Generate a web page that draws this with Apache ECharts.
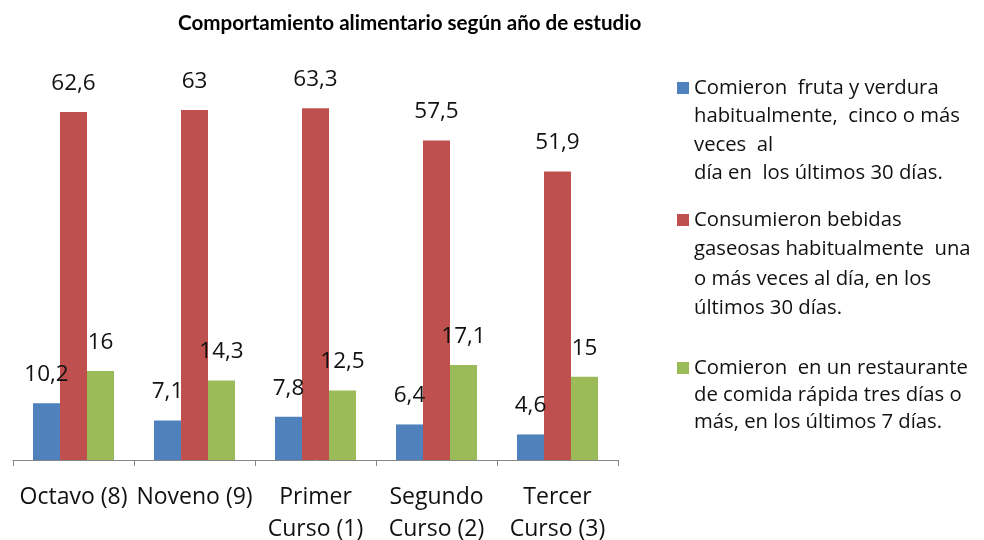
<!DOCTYPE html>
<html><head><meta charset="utf-8">
<script src="https://cdn.jsdelivr.net/npm/echarts@6/dist/echarts.min.js"></script>
<style>html,body{margin:0;padding:0;background:#fff}#c{width:984px;height:540px}</style>
</head><body><div id="c"></div>
<script>
const title = 'Comportamiento alimentario según año de estudio';
const categories = ['Octavo (8)', 'Noveno (9)', 'Primer\nCurso (1)', 'Segundo\nCurso (2)', 'Tercer\nCurso (3)'];
const seriesNames = [
  'Comieron  fruta y verdura\nhabitualmente,  cinco o más\nveces  al\ndía en  los últimos 30 días.',
  'Consumieron bebidas\ngaseosas habitualmente  una\no más veces al día, en los\núltimos 30 días.',
  'Comieron  en un restaurante\nde comida rápida tres días o\nmás, en los últimos 7 días.'
];
const frutaVerdura = [10.2, 7.1, 7.8, 6.4, 4.6];
const bebidasGaseosas = [62.6, 63, 63.3, 57.5, 51.9];
const comidaRapida = [16, 14.3, 12.5, 17.1, 15];
const colors = ['#4F81BD', '#C0504D', '#9BBB59'];

const FONT = '"Open Sans"';
const legendFirstLine = [88, 220, 368];
const legendLH = [28.5, 29.5, 27];
const values = [frutaVerdura, bebidasGaseosas, comidaRapida];

const chart = echarts.init(document.getElementById('c'), null, {renderer: 'canvas'});
chart.setOption({
  animation: false,
  title: {
    text: title, left: 178, top: 13, padding: 0,
    textStyle: {fontFamily: 'Lato', fontWeight: 'bold', fontSize: 20.6, color: '#000'}
  },
  legend: seriesNames.map((n, i) => {
    const lines = n.split('\n').length;
    const LH = legendLH[i];
    return {
      data: [n], left: 677, padding: 0,
      top: legendFirstLine[i] - LH / 2 - (lines - 1) * LH,
      orient: 'vertical', itemWidth: 12, itemHeight: 12, itemGap: 0,
      icon: 'rect',
      formatter: name => '\n'.repeat(lines - 1) + name,
      textStyle: {fontFamily: FONT, fontSize: 20.3, color: '#111', lineHeight: LH}
    };
  }),
  grid: {left: 13, right: 366, top: 71, bottom: 80, containLabel: false, outerBoundsMode: 'none'},
  xAxis: {
    type: 'category', data: categories,
    axisLine: {lineStyle: {color: '#868686', width: 1}},
    axisTick: {show: true, length: 6, lineStyle: {color: '#868686'}},
    axisLabel: {fontFamily: FONT, fontSize: 23, color: '#111', lineHeight: 32, margin: 21, interval: 0}
  },
  yAxis: {type: 'value', min: 0, max: 70, show: false, splitLine: {show: false}},
  series: values.map((v, i) => ({
    name: seriesNames[i], type: 'bar', data: v, barWidth: 27, barGap: '0%',
    itemStyle: {color: colors[i]},
    label: {show: true, position: 'top', distance: 17, fontFamily: FONT, fontSize: 22.5, color: '#111',
      formatter: p => String(p.value).replace('.', ',')}
  }))
});
</script></body></html>
